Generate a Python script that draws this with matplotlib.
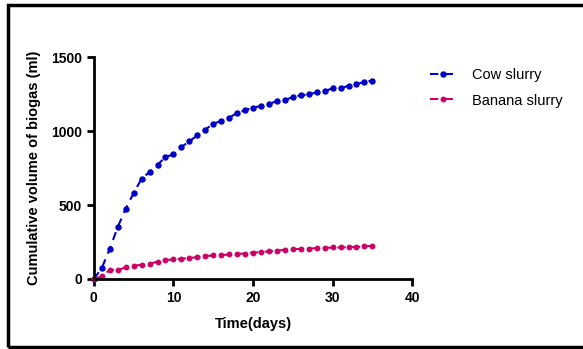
import matplotlib
matplotlib.use('Agg')
import matplotlib.pyplot as plt
from matplotlib.patches import Rectangle

# days
days = list(range(0, 36))
# cumulative biogas volume (ml)
cow = [0, 74, 205, 351, 475, 581, 678, 723, 772, 824, 842, 892, 930, 971, 1009, 1050,
       1068, 1090, 1122, 1140, 1158, 1169, 1182, 1203, 1209, 1230, 1241, 1248, 1261,
       1270, 1288, 1288, 1306, 1315, 1333, 1340]
banana = [0, 18, 61, 61, 78, 90, 96, 103, 117, 128, 132, 137, 141, 148, 155, 159,
          161, 166, 170, 172, 179, 181, 188, 190, 199, 201, 204, 206, 208, 210, 213,
          213, 215, 217, 220, 224]
x_ticks = [0, 10, 20, 30, 40]
y_ticks = [0, 500, 1000, 1500]

plt.rcParams['font.family'] = ['Liberation Sans', 'DejaVu Sans']

fig = plt.figure(figsize=(5.83, 3.49), dpi=100)
ax = fig.add_axes([0.161, 0.2006, 0.546, 0.636])

ax.plot(days, cow, linestyle='--', color='#0000c8', marker='o', markersize=3.6,
        linewidth=1.5, dashes=(4, 3), label='Cow slurry', clip_on=False)
ax.plot(days, banana, linestyle='--', color='#cc0066', marker='o', markersize=3.2,
        linewidth=1.5, dashes=(4, 3), label='Banana slurry', clip_on=False)

ax.set_xlim(0, 40)
ax.set_ylim(0, 1500)
ax.set_xticks(x_ticks)
ax.set_yticks(y_ticks)
ax.spines['top'].set_visible(False)
ax.spines['right'].set_visible(False)
ax.spines['left'].set_linewidth(2)
ax.spines['bottom'].set_linewidth(2)
ax.tick_params(direction='out', width=2, length=5, labelsize=10)
for lab in ax.get_xticklabels() + ax.get_yticklabels():
    lab.set_fontweight('bold')

ax.set_xlabel('Time(days)', fontsize=10.5, fontweight='bold', labelpad=9)
ax.set_ylabel('Cumulative volume of biogas (ml)', fontsize=10.5, fontweight='bold', labelpad=7)

ax.legend(loc='upper left', bbox_to_anchor=(1.015, 1.01), frameon=False, fontsize=10.5,
          handlelength=1.8, handletextpad=1.1, labelspacing=0.8)

fig.patches.append(Rectangle((0.014, 0.006), 1.2, 0.98, transform=fig.transFigure,
                             fill=False, edgecolor='black', linewidth=2.5))

fig.savefig('out.png', dpi=100)
